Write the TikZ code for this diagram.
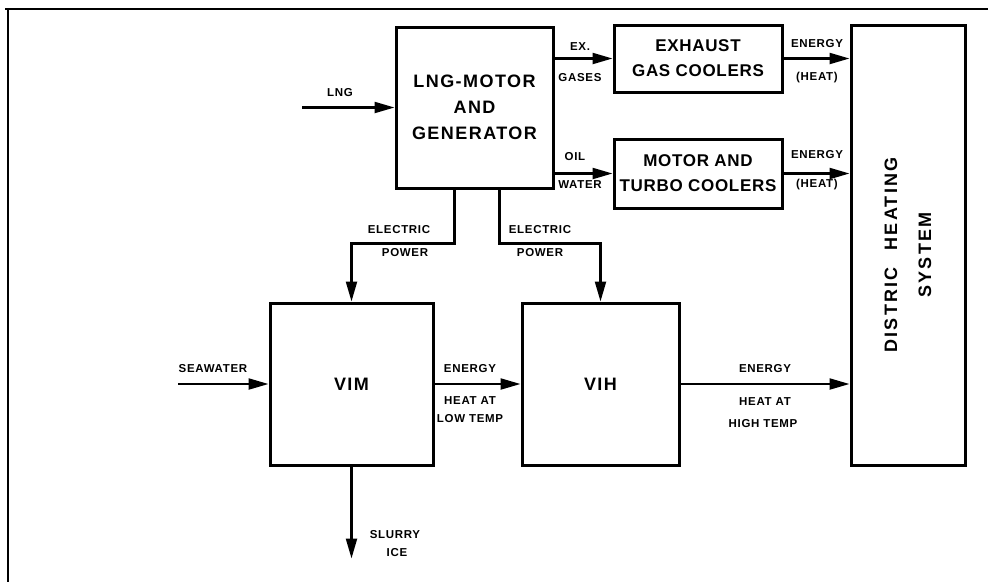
\documentclass[tikz,border=0pt]{standalone}
\usepackage{fontspec}
\setmainfont{Liberation Sans}
\usetikzlibrary{arrows.meta,positioning,calc}

\begin{document}
\begin{tikzpicture}[x=1pt,y=1pt,
  unit/.style={draw,line width=3pt,inner sep=0pt,align=center,
    font=\fontsize{18}{26}\selectfont\bfseries\addfontfeature{LetterSpace=8}},
  cooler/.style={unit,font=\fontsize{17}{25}\selectfont\bfseries\addfontfeature{LetterSpace=4}},
  flow/.style={line width=2.2pt,-{Triangle[length=20pt,width=11pt]}},
  lab/.style={inner sep=0pt,align=center,
    font=\fontsize{11.5}{14}\selectfont\bfseries\addfontfeature{LetterSpace=6}}]
\useasboundingbox (0,0) rectangle (988,-582);
\draw[line width=2.4pt] (5,-9) -- (988,-9);
\draw[line width=2.4pt] (8,-9) -- (8,-582);

\node[unit,minimum width=157,minimum height=161] (lngmotor) at (474.5,-107.5) {LNG-MOTOR\\AND\\GENERATOR};
\node[cooler,minimum width=168,minimum height=67] (exhaust) at (698,-58.5) {EXHAUST\\GAS COOLERS};
\node[cooler,minimum width=168,minimum height=69] (turbo) at (698,-173.5) {MOTOR AND\\TURBO COOLERS};
\node[draw,line width=3pt,minimum width=114,minimum height=440] (district) at (908,-245) {};
\node[rotate=90,align=center,font=\fontsize{18}{34}\selectfont\bfseries\addfontfeature{LetterSpace=12}]
  (districttext) at ($(district.center)+(0,-10)$) {DISTRIC\hspace{10pt} HEATING\\SYSTEM};
\node[unit,minimum width=163,minimum height=162] (vim) at (351.5,-384) {VIM};
\node[unit,minimum width=157,minimum height=162] (vih) at (600.5,-384) {VIH};

\coordinate (lngin) at (302,-107.5);
\coordinate (seain) at (178,-384);

\draw[flow] (lngin) -- (lngmotor.west);
\draw[flow] (lngmotor.east |- exhaust.west) -- (exhaust.west);
\draw[flow] (lngmotor.east |- turbo.west) -- (turbo.west);
\draw[flow] (exhaust.east) -- (district.west |- exhaust.east);
\draw[flow] (turbo.east) -- (district.west |- turbo.east);
\draw[flow] ([xshift=-20pt]lngmotor.south) -- ++(0,-54) -| (vim.north);
\draw[flow] ([xshift=25pt]lngmotor.south) -- ++(0,-54) -| (vih.north);
\draw[flow] (seain) -- (vim.west);
\draw[flow] (vim.east) -- (vih.west);
\draw[flow] (vih.east) -- (district.west |- vih.east);
\draw[flow] (vim.south) -- ++(0,-92) coordinate (iceout);

\foreach \x/\y/\t/\n in {340/93/LNG/llng, 580/47/EX./lex, 580/78/GASES/lgas,
  575/157/OIL/loil, 580/185/WATER/lwater, 817/44/ENERGY/len1, 817/78/(HEAT)/lheat1,
  817/155/ENERGY/len2, 817/185/(HEAT)/lheat2, 399/230/ELECTRIC/lel1, 405/253/POWER/lpow1,
  540/230/ELECTRIC/lel2, 540/253/POWER/lpow2, 213/369/SEAWATER/lsea,
  470/369/ENERGY/len3, 470/401/HEAT AT/lhl1, 470/419/LOW TEMP/lhl2,
  765/369/ENERGY/len4, 765/402/HEAT AT/lhh1, 763/424/HIGH TEMP/lhh2,
  395/535/SLURRY/lslur, 397/553/ICE/lice}
  \node[lab] (\n) at (\x,-\y) {\t};
\end{tikzpicture}
\end{document}
